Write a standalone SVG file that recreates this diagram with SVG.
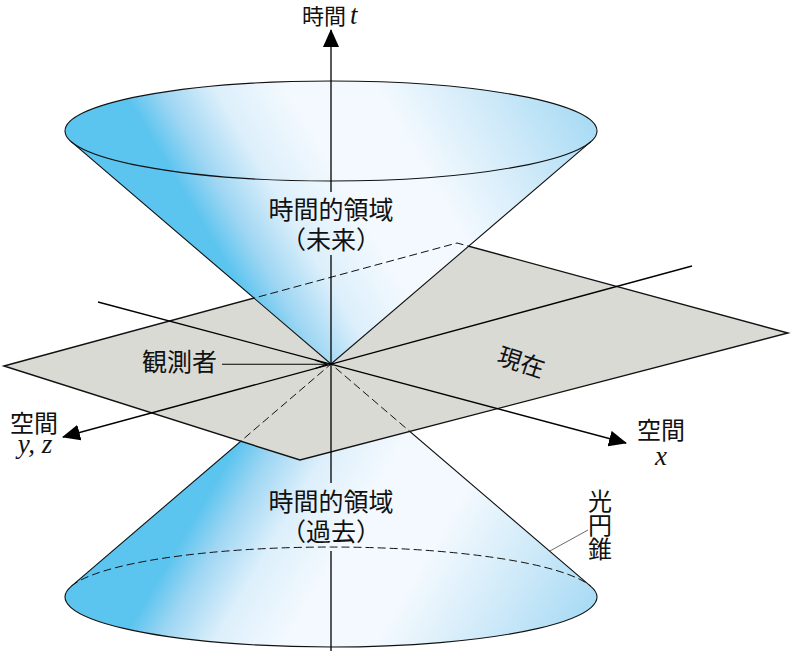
<svg xmlns="http://www.w3.org/2000/svg" width="791" height="651" viewBox="0 0 791 651">
<style>
.lbl{font-family:"Noto Sans CJK JP","Noto Sans CJK SC",sans-serif;font-size:24px;fill:#111}
.big{font-size:25px}
.math{font-family:"Liberation Serif",serif;font-style:italic;font-size:27px;fill:#111}
.edge{fill:none;stroke:#111;stroke-width:1.1}
.dash{fill:none;stroke:#111;stroke-width:1;stroke-dasharray:8 4}
.axis{fill:none;stroke:#000;stroke-width:1.3}
</style>
<defs>
<linearGradient id="gTop" gradientUnits="userSpaceOnUse" x1="65" y1="131" x2="470" y2="-108">
<stop offset="0" stop-color="#5BC4EF"/>
<stop offset="0.15" stop-color="#5BC4EF"/>
<stop offset="0.22" stop-color="#9ED6F3"/>
<stop offset="0.32" stop-color="#DCEFFB"/>
<stop offset="0.45" stop-color="#F3F9FE"/>
<stop offset="0.62" stop-color="#F3F9FE"/>
<stop offset="0.8" stop-color="#D0EAF9"/>
<stop offset="1" stop-color="#A3D9F4"/>
</linearGradient>
<linearGradient id="gBot" gradientUnits="userSpaceOnUse" x1="65" y1="597" x2="470" y2="836">
<stop offset="0" stop-color="#5BC4EF"/>
<stop offset="0.15" stop-color="#5BC4EF"/>
<stop offset="0.22" stop-color="#9ED6F3"/>
<stop offset="0.32" stop-color="#DCEFFB"/>
<stop offset="0.45" stop-color="#F3F9FE"/>
<stop offset="0.62" stop-color="#F3F9FE"/>
<stop offset="0.8" stop-color="#D0EAF9"/>
<stop offset="1" stop-color="#A3D9F4"/>
</linearGradient>
<clipPath id="clipTop"><path d="M71.2,141.7 L331,364 L590.8,141.7 A266,50 0 1 0 71.2,141.7 Z"/></clipPath>
<clipPath id="clipPlane"><polygon points="4,366 457,243 788,333 300,460"/></clipPath>
<marker id="ah" viewBox="0 0 18 16" refX="17" refY="8" markerWidth="18" markerHeight="16" markerUnits="userSpaceOnUse" orient="auto"><path d="M0,0 L18,8 L0,16 z" fill="#000"/></marker>
<marker id="av" viewBox="0 0 13 10" refX="12.5" refY="5" markerWidth="13" markerHeight="10" markerUnits="userSpaceOnUse" orient="auto"><path d="M0.5,0.8 L12.5,5 L0.5,9.2" fill="none" stroke="#000" stroke-width="1.1"/></marker>
</defs>

<g id="bottom-cone">
<path d="M71.2,586.3 L331,364 L590.8,586.3 A266,50 0 1 1 71.2,586.3 Z" fill="url(#gBot)"/>
<path class="edge" d="M71.2,586.3 L331,364 L590.8,586.3"/>
<path class="edge" d="M71.2,586.3 A266,50 0 1 0 590.8,586.3"/>
<path class="dash" d="M71.2,586.3 A266,50 0 0 1 590.8,586.3"/>
</g>

<g id="plane">
<polygon points="4,366 457,243 788,333 300,460" fill="#DADAD5" stroke="#111" stroke-width="1.4" stroke-linejoin="miter"/>
<path class="dash" clip-path="url(#clipPlane)" d="M71.2,586.3 L331,364 L590.8,586.3"/>
</g>

<g id="top-cone">
<path d="M71.2,141.7 L331,364 L590.8,141.7 A266,50 0 1 0 71.2,141.7 Z" fill="url(#gTop)"/>
<path class="dash" clip-path="url(#clipTop)" d="M4,366 L457,243 L788,333"/>
<path class="edge" d="M71.2,141.7 L331,364 L590.8,141.7"/>
<ellipse class="edge" cx="331" cy="131" rx="266" ry="50"/>
</g>

<g id="connectors">
<line class="axis" x1="331" y1="192" x2="331" y2="30" marker-end="url(#ah)"/>
<line class="axis" x1="331" y1="255" x2="331" y2="483"/>
<line class="axis" x1="331" y1="551" x2="331" y2="651"/>
<line class="axis" x1="98" y1="302" x2="626" y2="443" marker-end="url(#ah)"/>
<line class="axis" x1="692" y1="266" x2="63" y2="437" marker-end="url(#ah)"/>
<line x1="222" y1="364.3" x2="327" y2="364.3" stroke="#000" stroke-width="1.1" marker-end="url(#av)"/>
<line x1="588" y1="530" x2="549" y2="551.5" stroke="#444" stroke-width="0.8"/>
</g>

<g id="labels">
<text class="lbl" x="302" y="24" style="font-size:22px">時間<tspan class="math" x="350" y="24">t</tspan></text>
<text class="lbl big" text-anchor="middle"><tspan x="331" y="219">時間的領域</tspan><tspan x="331" y="249">（未来）</tspan></text>
<text class="lbl big" text-anchor="middle"><tspan x="331" y="511">時間的領域</tspan><tspan x="331" y="541">（過去）</tspan></text>
<text class="lbl big" x="142" y="371">観測者</text>
<text class="lbl" transform="translate(521,363) rotate(18)" text-anchor="middle" y="8">現在</text>
<text class="lbl" text-anchor="middle"><tspan x="661" y="439">空間</tspan><tspan class="math" x="661" y="465">x</tspan></text>
<text class="lbl" text-anchor="middle"><tspan x="34" y="432">空間</tspan><tspan class="math" x="35" y="453">y, z</tspan></text>
<text class="lbl" x="600" y="489" style="writing-mode:vertical-rl">光円錐</text>
</g>
</svg>
